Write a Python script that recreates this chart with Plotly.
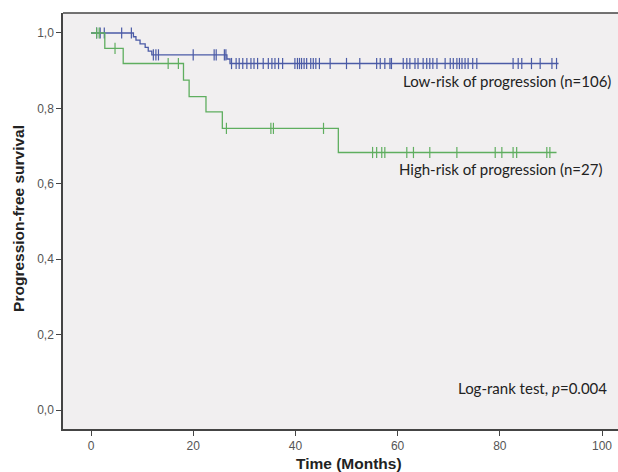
import numpy as np
import plotly.graph_objects as go

# Kaplan-Meier estimates: low-risk group (n=106)
low_event_times = [8.3, 8.8, 9.6, 10.6, 11.2, 11.9, 26.6, 27.2]
low_event_surv = [0.990, 0.981, 0.971, 0.962, 0.952, 0.942, 0.931, 0.919]
low_last_time = 91.5
low_censor_times = [1.1, 1.8, 2.6, 6.0, 7.9, 12.2, 12.7, 13.2, 20.0, 24.1, 24.5, 26.1, 26.4,
                    27.5, 28.4, 29.0, 29.7, 30.5, 31.3, 31.9, 32.6, 33.7, 34.7, 35.4, 36.0,
                    36.7, 37.5, 39.9, 40.4, 40.8, 41.2, 41.7, 42.2, 43.0, 43.5, 44.0, 44.7,
                    46.8, 50.0, 52.6, 55.9, 56.6, 57.5, 58.5, 58.8, 61.1, 61.8, 62.4, 63.4,
                    64.0, 65.0, 65.7, 66.3, 66.9, 67.7, 69.3, 70.3, 70.9, 71.6, 72.1, 72.6,
                    73.2, 73.8, 74.7, 75.5, 82.6, 83.6, 84.3, 86.2, 87.9, 90.2, 91.1]

# Kaplan-Meier estimates: high-risk group (n=27)
high_event_times = [2.7, 6.3, 18.1, 19.2, 22.5, 25.7, 48.4]
high_event_surv = [0.959, 0.919, 0.875, 0.831, 0.791, 0.747, 0.683]
high_last_time = 91.1
high_censor_times = [1.1, 1.6, 4.7, 15.1, 17.1, 26.5, 35.2, 35.7, 45.5, 55.1, 55.9, 56.9,
                     57.5, 61.8, 63.1, 66.3, 71.6, 79.1, 80.4, 82.6, 83.3, 89.2, 89.8]

x_ticks = [0, 20, 40, 60, 80, 100]
y_ticks = [0.0, 0.2, 0.4, 0.6, 0.8, 1.0]

BLUE = "#4b5ba6"
GREEN = "#5fae5f"


def step_path(times, surv, last):
    xs = [0.0] + list(times) + [last]
    ys = [1.0] + list(surv) + [surv[-1]]
    return xs, ys


def surv_at(t, times, surv):
    s = 1.0
    for et, es in zip(times, surv):
        if et <= t:
            s = es
    return s


fig = go.Figure()

for times, surv, last, cens, color in [
    (low_event_times, low_event_surv, low_last_time, low_censor_times, BLUE),
    (high_event_times, high_event_surv, high_last_time, high_censor_times, GREEN),
]:
    xs, ys = step_path(times, surv, last)
    fig.add_trace(go.Scatter(x=xs, y=ys, mode="lines", line=dict(color=color, width=1.3, shape="hv"),
                             showlegend=False, hoverinfo="skip"))
    cy = [surv_at(t, times, surv) for t in cens]
    fig.add_trace(go.Scatter(x=cens, y=cy, mode="markers",
                             marker=dict(symbol="line-ns", size=8, line=dict(color=color, width=1.2)),
                             showlegend=False, hoverinfo="skip"))

text_font = dict(family="Lato, Carlito, sans-serif", size=15, color="#222222")

fig.add_annotation(x=(401 - 91) / 5.11, y=low_event_surv[-1] - 0.046, text="Low-risk of progression (n=106)",
                   xanchor="left", yanchor="middle", showarrow=False, font=text_font)
fig.add_annotation(x=(397 - 91) / 5.11, y=high_event_surv[-1] - 0.045, text="High-risk of progression (n=27)",
                   xanchor="left", yanchor="middle", showarrow=False, font=text_font)
fig.add_annotation(x=(456 - 91) / 5.11, y=0.058, text="Log-rank test, <i>p</i>=0.004",
                   xanchor="left", yanchor="middle", showarrow=False, font=text_font)

# axis titles
title_font = dict(family="Liberation Sans, Arial", size=15.5, color="#222222")
fig.add_annotation(xref="paper", yref="paper", x=0, y=0.505, xshift=-44, xanchor="center",
                   yanchor="middle", textangle=-90,
                   text="<b>Progression-free survival</b>", showarrow=False, font=title_font)
fig.add_annotation(xref="paper", yref="paper", x=0.515, y=0, yshift=-34, xanchor="center",
                   yanchor="middle", text="<b>Time (Months)</b>", showarrow=False, font=title_font)

axis_common = dict(showgrid=False, zeroline=False, showline=True, linecolor="#444444", linewidth=1.5,
                   ticks="outside", ticklen=5, tickcolor="#444444", tickwidth=1.2,
                   tickfont=dict(family="Liberation Sans, Arial", size=12, color="#555555"))

fig.update_xaxes(range=[-5.48, 103.13], tickvals=x_ticks, mirror=False, **axis_common)
fig.update_yaxes(range=[-0.0504, 1.053], tickvals=y_ticks, tickformat=".1f", **axis_common)

# top frame line
fig.add_shape(type="line", xref="paper", yref="paper", x0=0, x1=1, y0=1, y1=1,
              line=dict(color="#444444", width=1.5))

fig.update_layout(
    width=618, height=472,
    margin=dict(l=63, r=0, t=13, b=43),
    plot_bgcolor="#f1eff0", paper_bgcolor="#ffffff",
    separators=",.",
    showlegend=False,
)

fig.write_html("out.html")
